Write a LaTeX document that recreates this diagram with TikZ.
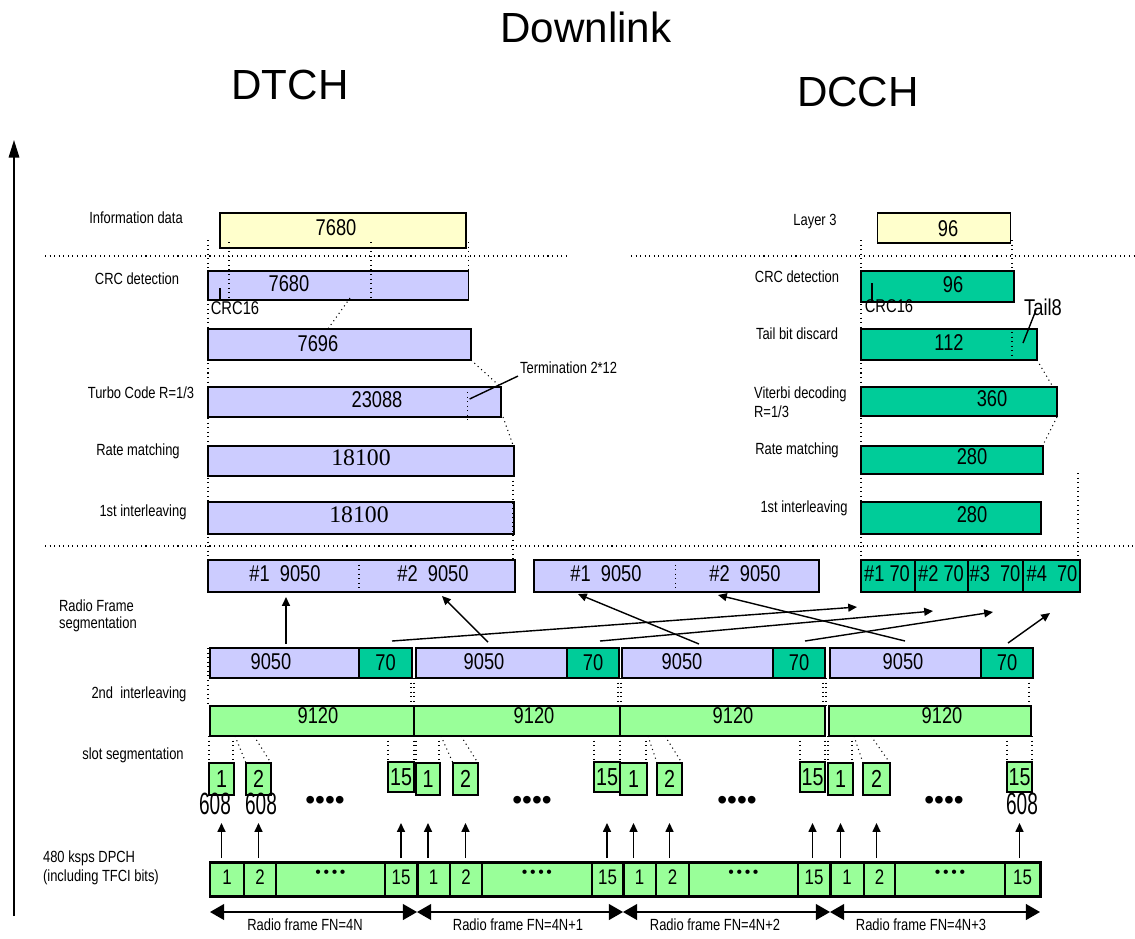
\documentclass[tikz,border=0pt]{standalone}
\usepackage{fontspec}
\setmainfont{Liberation Sans}
\newfontfamily\narrowfont{Liberation Sans}[FakeStretch=0.8]
\newfontfamily\tallfont{Liberation Sans}[FakeStretch=0.62]
\newfontfamily\romanfont{Liberation Serif}
\usetikzlibrary{arrows.meta,calc}

\definecolor{infofill}{HTML}{FFFFCC}
\definecolor{dtchfill}{HTML}{CCCCFF}
\definecolor{dcchfill}{HTML}{00CC99}
\definecolor{slotfill}{HTML}{99FF99}

% box from (x1,y1) to (x2,y2) in pixel units
\newcommand{\blk}[6]{%
  \node[#2, minimum width={(#5-#3)*0.02cm}, minimum height={(#6-#4)*0.02cm}]
    (#1) at ({(#3+#5)/2},{(#4+#6)/2}) {};}

\begin{document}
\begin{tikzpicture}[x=0.02cm, y=-0.02cm,
  box/.style={draw, line width=0.9pt, inner sep=0pt, outer sep=0pt},
  ybox/.style={box, fill=infofill},
  pbox/.style={box, fill=dtchfill},
  gbox/.style={box, fill=dcchfill},
  sbox/.style={box, fill=slotfill},
  dbox/.style={box, line width=0.6pt, fill=slotfill},
  fbox/.style={box, line width=1.7pt},
  title/.style={font=\fontsize{24}{28}\selectfont},
  lbl/.style={font=\narrowfont\fontsize{9.2}{10.8}\selectfont, inner sep=1pt},
  crclbl/.style={font=\narrowfont\fontsize{10.5}{12}\selectfont, inner sep=0pt},
  num/.style={font=\narrowfont\fontsize{13}{15}\selectfont, inner sep=0pt},
  bignum/.style={font=\narrowfont\fontsize{14}{16}\selectfont, inner sep=0pt},
  lennum/.style={font=\tallfont\fontsize{17.5}{18}\selectfont, inner sep=0pt},
  dpnum/.style={font=\narrowfont\fontsize{12}{14}\selectfont, inner sep=0pt},
  rnum/.style={font=\romanfont\fontsize{13.5}{15}\selectfont, inner sep=0pt},
  guide/.style={dotted, line width=0.6pt},
  fwd/.style={-{Triangle[length=5pt,width=4.5pt]}, line width=0.8pt},
  framespan/.style={{Triangle[length=8pt,width=9pt]}-{Triangle[length=8pt,width=9pt]}, line width=0.8pt}]

\useasboundingbox (0,0) rectangle (1135,938);

% headings
\node[title] (dl) at (586,27) {Downlink};
\node[title] (dtch) at (290,85) {DTCH};
\node[title] (dcch) at (858,92) {DCCH};

% axis
\coordinate (axbot) at (14,916);
\coordinate (axtop) at (14,140);
\draw[-{Triangle[length=10pt,width=6pt]}, line width=0.9pt] (axbot) -- (axtop);

% DTCH column
\node[lbl] (infoL) at (136,218) {Information data};
\blk{info}{ybox}{220}{213}{466}{248}
\node[num] (infoT) at (336,228) {7680};

\node[lbl] (crcDL) at (137,279) {CRC detection};
\blk{crcD}{pbox}{208}{271}{468.6}{300}
\node[num] (crcDT) at (289,284) {7680};
\coordinate (crcDmk) at (220,288);
\draw[line width=0.7pt] (crcDmk) -- (crcDmk |- crcD.south);
\node[crclbl] (crcDc) at (235,308) {CRC16};

\blk{attD}{pbox}{208}{329}{471}{360}
\node[num] (attDT) at (318,344) {7696};

\node[lbl] (turboL) at (141,393) {Turbo Code R=1/3};
\blk{turbo}{pbox}{208}{387}{501}{417}
\node[num] (turboT) at (377,400) {23088};
\node[lbl, anchor=west] (term) at (518,368) {Termination 2*12};
\coordinate (termtip) at (469.6,399);
\draw[line width=0.8pt] (termtip) -- (term.south west);

\node[lbl] (rmDL) at (138,451) {Rate matching};
\blk{rmD}{pbox}{208}{446}{514}{476}
\node[rnum] (rmDT) at (361,458) {18100};

\node[lbl] (ilDL) at (143,512) {1st interleaving};
\blk{ilD}{pbox}{208}{502}{514}{534}
\node[rnum] (ilDT) at (359,515) {18100};

% DCCH column
\node[lbl] (l3L) at (815,222) {Layer 3};
\blk{l3}{ybox}{877.5}{213}{1010.6}{243}
\node[num] (l3T) at (948,229) {96};

\node[lbl] (crcCL) at (797,277) {CRC detection};
\blk{crcC}{gbox}{861}{271}{1014}{302}
\node[num] (crcCT) at (953,285) {96};
\coordinate (crcCmk) at (872,283);
\draw[line width=0.7pt] (crcCmk) -- (crcCmk |- crcC.south);
\node[crclbl] (crcCc) at (889,306) {CRC16};

\node[lbl] (tailL) at (797,334) {Tail bit discard};
\blk{tail}{gbox}{861}{329}{1037}{360}
\node[num] (tailT) at (949,343) {112};
\node[num] (tail8) at (1043,307) {Tail8};
\coordinate (tailtip) at (1023,343);
\coordinate (tailtop) at (1036,310);
\draw[line width=0.8pt] (tailtip) -- (tailtop);

\node[lbl, align=left, anchor=west] (vitL) at (752,402) {Viterbi decoding\\R=1/3};
\blk{vit}{gbox}{861}{387}{1057}{416}
\node[num] (vitT) at (992,399) {360};

\node[lbl] (rmCL) at (797,450) {Rate matching};
\blk{rmC}{gbox}{861}{446}{1043}{474}
\node[num] (rmCT) at (972,457) {280};

\node[lbl] (ilCL) at (804,508) {1st interleaving};
\blk{ilC}{gbox}{861}{502}{1041}{534}
\node[num] (ilCT) at (972,515) {280};

% dotted separators and guides
\draw[guide] (45,256) -- (570,256);
\draw[guide] (631,256) -- (1135,256);
\draw[guide] (45,546) -- (1135,546);
\draw[guide] (208,240) -- (208,560);
\draw[guide] (229,242) -- (229,297);
\draw[guide] (371,242) -- (371,299);
\draw[guide] (468.6,242) -- (468.6,271);
\draw[guide] (350,298) -- (328.6,328);
\draw[guide] (471,360) -- (500.7,387);
\draw[guide] (467.5,392) -- (467.5,420);
\draw[guide] (503,417) -- (513,445);
\draw[guide] (513,476) -- (513,560);
\draw[guide] (861,240) -- (861,560);
\draw[guide] (1012,240) -- (1012,271);
\draw[guide] (1012,332) -- (1012,357);
\draw[guide] (1037,360) -- (1053,387);
\draw[guide] (1057,417) -- (1043,445);
\draw[guide] (1078,473) -- (1078,560);

% radio frame segmentation
\node[lbl, align=left, anchor=west, font=\narrowfont\fontsize{9.2}{9.8}\selectfont] (rfsL) at (57,616) {Radio Frame\\segmentation};
\blk{segA}{pbox}{208}{560}{515}{592}
\blk{segB}{pbox}{534}{560}{819}{592}
\draw[guide] (359,560) -- (359,592);
\draw[guide] (675.5,560) -- (675.5,592);
\node[num] (segA1) at (285,574) {\#1\ \ 9050};
\node[num] (segA2) at (433,574) {\#2\ \ 9050};
\node[num] (segB1) at (606,574) {\#1\ \ 9050};
\node[num] (segB2) at (745,574) {\#2\ \ 9050};
\blk{sc1}{gbox}{861}{560}{915}{592}
\blk{sc2}{gbox}{915}{560}{968}{592}
\blk{sc3}{gbox}{968}{560}{1023}{592}
\blk{sc4}{gbox}{1023}{560}{1080}{592}
\node[num] (scT1) at (887,574) {\#1 70};
\node[num] (scT2) at (941,574) {\#2 70};
\node[num] (scT3) at (995,574) {\#3\ \ 70};
\node[num] (scT4) at (1052,574) {\#4\ \ 70};

\foreach \i/\a/\b/\c/\tx in {1/210/359/412/271, 2/416/567/619/484, 3/622/773/825/682, 4/830/981/1033/903} {
  \blk{fp\i}{pbox}{\a}{648}{\b}{678}
  \blk{fg\i}{gbox}{\b}{648}{\c}{678}
  \node[num] (fpT\i) at (\tx,662) {9050};
  \node[num] (fgT\i) at (fg\i) {70};
}

\foreach \i/\sx/\sy/\ex/\ey in {1/286/644/286/597, 2/488/642/442/596, 3/699/644/578/594, 4/905/641/718/595,
    5/392/641/857/607, 6/600/641/933/611, 7/805/641/993/612, 8/1008/643/1050/613} {
  \coordinate (rs\i) at (\sx,\sy);
  \coordinate (re\i) at (\ex,\ey);
  \draw[fwd] (rs\i) -- (re\i);
}

% 2nd interleaving
\node[lbl] (il2L) at (139,694) {2nd\ \ interleaving};
\draw[guide] (208,648) -- (208,706);
\foreach \x in {411,414,618,621,823,826,1029}
  \draw[guide] (\x,678) -- (\x,706);
\foreach \i/\a/\b/\tx in {1/210/414/318, 2/414/620/534, 3/620/825/733, 4/829/1031/942} {
  \blk{rf\i}{sbox}{\a}{706}{\b}{736}
  \node[num] (rfT\i) at (\tx,716) {9120};
}

% slot segmentation
\node[lbl] (slotL) at (133,755) {slot segmentation};
\coordinate (upbot) at (0,858);
\coordinate (uptop) at (0,823);
\foreach \i/\a/\b/\c/\d/\e/\f in {1/209/234/246/271/388/414, 2/416/440/453/478/594/620, 3/620/647/657/682/800/825, 4/828/853/863/890/1007/1032} {
  \blk{sa\i}{sbox}{\a}{763}{\b}{795}
  \blk{sb\i}{sbox}{\c}{763}{\d}{795}
  \blk{sz\i}{sbox}{\e}{762}{\f}{792}
  \node[bignum] (saT\i) at (sa\i) {1};
  \node[bignum] (sbT\i) at (sb\i) {2};
  \node[bignum] (szT\i) at (sz\i) {15};
  \draw[guide] (sa\i.north west |- rf\i.south) -- (sa\i.north west);
  \draw[guide] ($(sa\i.north east |- rf\i.south)+(-1,0)$) -- ($(sa\i.north east)+(-1,0)$);
  \draw[guide] ($(sa\i.north east |- rf\i.south)+(1,0)$) -- (sb\i.north west);
  \draw[guide] ($(sb\i.north west |- rf\i.south)+(8,0)$) -- (sb\i.north east);
  \draw[guide] (sz\i.north west |- rf\i.south) -- (sz\i.north west);
  \draw[guide] (sz\i.north east |- rf\i.south) -- (sz\i.north east);
  \draw[fwd] (sa\i.south |- upbot) -- (sa\i.south |- uptop);
  \draw[fwd] (sb\i.south |- upbot) -- (sb\i.south |- uptop);
  \draw[fwd] (sz\i.south |- upbot) -- (sz\i.south |- uptop);
}
\node[lennum] (len1) at (215,804) {608};
\node[lennum] (len2) at (261,804) {608};
\node[lennum] (len3) at (1022,804) {608};
\foreach \i/\x in {1/325, 2/532, 3/737, 4/944}
  \node[font=\fontsize{16}{16}\selectfont, inner sep=0pt] (more\i) at (\x,803) {••••};

% 480 ksps DPCH
\node[lbl, align=left, anchor=west] (dpL) at (41,868) {480 ksps DPCH\\(including TFCI bits)};
\coordinate (spanline) at (0,912);
\foreach \i/\a/\b/\c/\d/\e/\lx/\fn in {1/210/244/276/385/417/305/4N, 2/417/450/482/592/623/518/4N+1, 3/623/656/689/798/830/715/4N+2, 4/830/864/895/1005/1040/921/4N+3} {
  \blk{dpa\i}{dbox}{\a}{862}{\b}{896}
  \blk{dpb\i}{dbox}{\b}{862}{\c}{896}
  \blk{dpd\i}{dbox}{\c}{862}{\d}{896}
  \blk{dpz\i}{dbox}{\d}{862}{\e}{896}
  \blk{dpf\i}{fbox}{\a}{862}{\e}{896}
  \node[dpnum] (dpaT\i) at ($(dpa\i)+(0,-2)$) {1};
  \node[dpnum] (dpbT\i) at ($(dpb\i)+(0,-2)$) {2};
  \node[font=\fontsize{9}{9}\selectfont, inner sep=0pt] (dpdT\i) at ($(dpd\i)+(0,-5)$) {•\,•\,•\,•};
  \node[dpnum] (dpzT\i) at ($(dpz\i)+(0,-2)$) {15};
  \draw[framespan] (dpf\i.south west |- spanline) -- (dpf\i.south east |- spanline);
  \node[lbl] (fnL\i) at (\lx,925) {Radio frame FN=\fn};
}

\end{tikzpicture}
\end{document}
